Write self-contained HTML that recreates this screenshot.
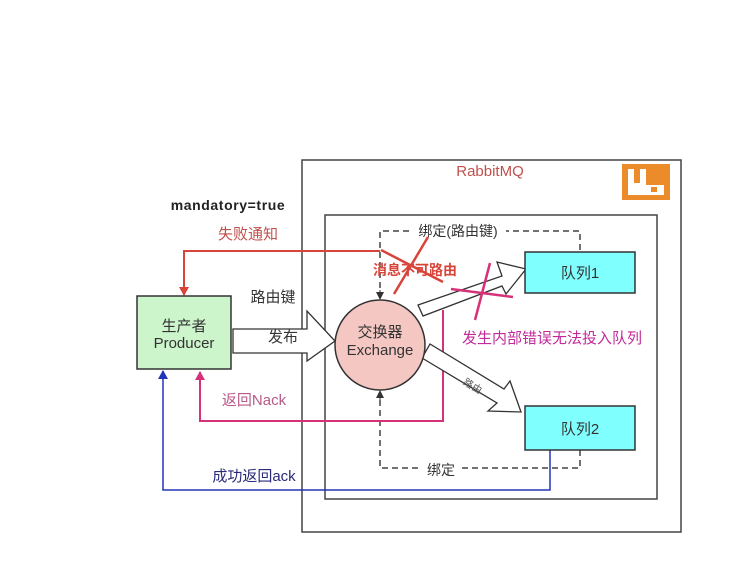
<!DOCTYPE html>
<html><head><meta charset="utf-8"><style>
body{margin:0;background:#fff}
svg{display:block;font-family:"Liberation Sans","Noto Sans CJK SC",sans-serif}
</style></head><body>
<svg width="730" height="576" viewBox="0 0 730 576">
<defs>
<marker id="ar" markerWidth="9" markerHeight="10" refX="8" refY="5" orient="auto" markerUnits="userSpaceOnUse"><path d="M0,0L9,5L0,10z" fill="#d9443a"/></marker>
<marker id="am" markerWidth="9" markerHeight="10" refX="8" refY="5" orient="auto" markerUnits="userSpaceOnUse"><path d="M0,0L9,5L0,10z" fill="#d6327a"/></marker>
<marker id="ab" markerWidth="9" markerHeight="10" refX="8" refY="5" orient="auto" markerUnits="userSpaceOnUse"><path d="M0,0L9,5L0,10z" fill="#2233bb"/></marker>
<marker id="ag" markerWidth="8" markerHeight="8" refX="7" refY="4" orient="auto" markerUnits="userSpaceOnUse"><path d="M0,0L8,4L0,8z" fill="#333"/></marker>
</defs>
<rect x="302" y="160" width="379" height="372" fill="none" stroke="#444" stroke-width="1.5"/>
<rect x="325" y="215" width="332" height="284" fill="none" stroke="#444" stroke-width="1.5"/>
<text x="490" y="176" font-size="15" fill="#c0504d" text-anchor="middle">RabbitMQ</text>
<rect x="622" y="164" width="48" height="36" fill="#ec8b2a"/>
<path d="M628,169h6v14h6v-14h6v16h18v10h-36z" fill="#fff"/>
<rect x="651" y="187" width="6" height="5" fill="#ec8b2a"/>
<text x="228" y="210" font-size="14" font-weight="bold" fill="#222" text-anchor="middle" letter-spacing="0.6">mandatory=true</text>
<path d="M380,298V231H580V252" fill="none" stroke="#444" stroke-width="1.5" stroke-dasharray="6,4"/>
<path d="M380,290V299" stroke="#333" marker-end="url(#ag)"/>
<path d="M380,400V468H580V450" fill="none" stroke="#444" stroke-width="1.5" stroke-dasharray="6,4"/>
<path d="M380,400V391" stroke="#333" marker-end="url(#ag)"/>
<rect x="410" y="222" width="96" height="17" fill="#fff"/>
<text x="458" y="236" font-size="14" fill="#333" text-anchor="middle">绑定(路由键)</text>
<rect x="420" y="461" width="42" height="15" fill="#fff"/>
<text x="441" y="475" font-size="14" fill="#333" text-anchor="middle">绑定</text>
<path d="M380,251H184V295" fill="none" stroke="#d9443a" stroke-width="2" marker-end="url(#ar)"/>
<text x="248" y="239" font-size="15" fill="#c0504d" text-anchor="middle">失败通知</text>
<path d="M443,310V421H200V372" fill="none" stroke="#d6327a" stroke-width="2" marker-end="url(#am)"/>
<text x="254" y="405" font-size="15" fill="#b85a8a" text-anchor="middle">返回Nack</text>
<path d="M550,450V490H163V371" fill="none" stroke="#2233bb" stroke-width="1.5" marker-end="url(#ab)"/>
<text x="254" y="481" font-size="15" fill="#2a2a7a" text-anchor="middle">成功返回ack</text>
<rect x="137" y="296" width="94" height="73" fill="#ccf5cc" stroke="#333" stroke-width="1.5"/>
<text x="184" y="331" font-size="15" fill="#333" text-anchor="middle">生产者</text>
<text x="184" y="348" font-size="15" fill="#333" text-anchor="middle">Producer</text>
<path d="M233,329H307V311L335,341L307,361V353H233z" fill="#fff" stroke="#333" stroke-width="1.3"/>
<text x="283" y="342" font-size="15" fill="#333" text-anchor="middle">发布</text>
<text x="273" y="302" font-size="15" fill="#333" text-anchor="middle">路由键</text>
<path d="M418,305L502,276L497,262L526,269L506,294L502,286L423,316z" fill="#fff" stroke="#333" stroke-width="1.3"/>
<path d="M422,358L497,403L488,411L521,412L510,381L504,389L430,344z" fill="#fff" stroke="#333" stroke-width="1.3"/>
<text x="471" y="389" font-size="10" fill="#555" transform="rotate(31 471 389)" text-anchor="middle">路由</text>
<circle cx="380" cy="345" r="45" fill="#f4c7c3" stroke="#333" stroke-width="1.5"/>
<text x="380" y="337" font-size="15" fill="#333" text-anchor="middle">交换器</text>
<text x="380" y="355" font-size="15" fill="#333" text-anchor="middle">Exchange</text>
<rect x="525" y="252" width="110" height="41" fill="#80ffff" stroke="#333" stroke-width="1.5"/>
<text x="580" y="278" font-size="15" fill="#333" text-anchor="middle">队列1</text>
<rect x="525" y="406" width="110" height="44" fill="#80ffff" stroke="#333" stroke-width="1.5"/>
<text x="580" y="434" font-size="15" fill="#333" text-anchor="middle">队列2</text>
<text x="415" y="275" font-size="14" font-weight="bold" fill="#d9443a" text-anchor="middle">消息不可路由</text>
<path d="M428,237L394,294M381,250L443,282" stroke="#d9443a" stroke-width="2.5"/>
<path d="M490,263L475,320M451,289L513,297" stroke="#d6327a" stroke-width="2.5"/>
<text x="552" y="343" font-size="15" fill="#c02a9a" text-anchor="middle">发生内部错误无法投入队列</text>
</svg>
</body></html>
